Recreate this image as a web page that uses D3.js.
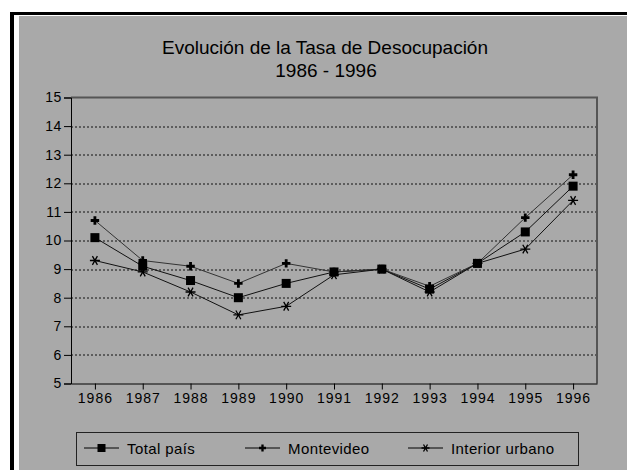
<!DOCTYPE html>
<html>
<head>
<meta charset="utf-8">
<script src="https://cdn.jsdelivr.net/npm/d3@7/dist/d3.min.js"></script>
<style>
  body { margin: 0; background: #fff; }
  text { font-family: "Liberation Sans", Arial, sans-serif; fill: #000; }
</style>
</head>
<body>
<div id="chart"></div>
<script>
// data
var years = ["1986","1987","1988","1989","1990","1991","1992","1993","1994","1995","1996"];
var totalPais   = [10.1, 9.1, 8.6, 8.0, 8.5, 8.9, 9.0, 8.3, 9.2, 10.3, 11.9];
var montevideo  = [10.7, 9.3, 9.1, 8.5, 9.2, 8.9, 9.0, 8.4, 9.2, 10.8, 12.3];
var interior    = [9.3, 8.9, 8.2, 7.4, 7.7, 8.8, 9.0, 8.2, 9.2, 9.7, 11.4];
var yTicks = [5,6,7,8,9,10,11,12,13,14,15];
var seriesNames = ["Total país", "Montevideo", "Interior urbano"];

var W = 627, H = 470;
var margin = {top: 97.5, right: 30, bottom: 87, left: 71};
var width = 597 - margin.left, height = 383.5 - margin.top;

var svg = d3.select("#chart").append("svg")
    .attr("width", W).attr("height", H);

// frame: black border, white gap, gray panel
svg.append("rect").attr("x", 10).attr("y", 12).attr("width", W - 10).attr("height", H - 12).attr("fill", "#000");
svg.append("rect").attr("x", 14).attr("y", 15).attr("width", W - 14).attr("height", H - 15).attr("fill", "#fff");
svg.append("rect").attr("x", 19).attr("y", 16).attr("width", W - 19).attr("height", H - 16).attr("fill", "#a9a9a9");

// title
svg.append("text").attr("x", 325).attr("y", 54).attr("text-anchor", "middle")
    .style("font-size", "19px").text("Evolución de la Tasa de Desocupación");
svg.append("text").attr("x", 326).attr("y", 77).attr("text-anchor", "middle")
    .style("font-size", "19px").text("1986 - 1996");

var g = svg.append("g").attr("transform", "translate(" + margin.left + "," + margin.top + ")");

var x = d3.scalePoint().domain(years).range([0, width]).padding(0.5);
var y = d3.scaleLinear().domain([5, 15]).range([height, 0]);

// dotted gridlines
g.selectAll(".grid").data(yTicks.filter(function(d) { return d > 5 && d < 15; }))
  .enter().append("line")
    .attr("x1", 0).attr("x2", width)
    .attr("y1", function(d) { return Math.round(y(d)) + 0.5; })
    .attr("y2", function(d) { return Math.round(y(d)) + 0.5; })
    .attr("stroke", "#111").attr("stroke-width", 1).attr("stroke-dasharray", "2,2");

// top and right edges of plot area
g.append("path")
    .attr("d", "M0," + y(15) + "H" + width + "V" + height)
    .attr("fill", "none").attr("stroke", "#555").attr("stroke-width", 2);

// axes
var yAxis = g.append("g")
    .call(d3.axisLeft(y).tickValues(yTicks).tickSize(7).tickPadding(2).tickFormat(d3.format("d")));
yAxis.select(".domain").attr("stroke", "#000");
yAxis.selectAll("text").style("font-size", "14px").style("letter-spacing", "0.6px");

var xAxis = g.append("g").attr("transform", "translate(0," + height + ")")
    .call(d3.axisBottom(x).tickSize(6).tickPadding(4).tickSizeOuter(0));
xAxis.selectAll("text").style("font-size", "14px").style("letter-spacing", "1px");

// markers
function drawMarker(sel, kind, s) {
  if (kind === 0) {
    sel.append("rect").attr("x", -s / 2).attr("y", -s / 2).attr("width", s).attr("height", s).attr("fill", "#000");
  } else if (kind === 1) {
    sel.append("path").attr("d", d3.symbol().type(d3.symbolCross).size(s * s * 0.55)).attr("fill", "#000");
  } else {
    var r = s / 2;
    var d = "M" + (-r) + ",0H" + r +
            "M" + (-r * 0.5) + "," + (-r * 0.87) + "L" + (r * 0.5) + "," + (r * 0.87) +
            "M" + (r * 0.5) + "," + (-r * 0.87) + "L" + (-r * 0.5) + "," + (r * 0.87);
    sel.append("path").attr("d", d).attr("stroke", "#000").attr("stroke-width", 1.3).attr("fill", "none");
  }
}

var allSeries = [totalPais, montevideo, interior];
var lineColors = ["#111", "#333", "#111"];

var line = d3.line()
    .x(function(d, i) { return x(years[i]); })
    .y(function(d) { return y(d); });

allSeries.forEach(function(vals, k) {
  g.append("path").datum(vals)
    .attr("fill", "none").attr("stroke", lineColors[k]).attr("stroke-width", 1)
    .attr("d", line);
});
allSeries.forEach(function(vals, k) {
  vals.forEach(function(v, i) {
    var m = g.append("g").attr("transform", "translate(" + x(years[i]) + "," + y(v) + ")");
    drawMarker(m, k, k === 0 ? 9 : (k === 1 ? 8.5 : 10));
  });
});

// legend
var legend = svg.append("g");
legend.append("rect").attr("x", 76.5).attr("y", 432.5).attr("width", 502).attr("height", 33)
    .attr("fill", "none").attr("stroke", "#222").attr("stroke-width", 1);
var legX = [84, 245, 408];
seriesNames.forEach(function(name, k) {
  var it = legend.append("g").attr("transform", "translate(" + legX[k] + ",448)");
  it.append("line").attr("x1", 0).attr("x2", 35).attr("y1", 0).attr("y2", 0)
    .attr("stroke", "#000").attr("stroke-width", 1);
  var m = it.append("g").attr("transform", "translate(17.5,0)");
  drawMarker(m, k, k === 1 ? 7 : 8);
  it.append("text").attr("x", 43).attr("y", 5.5).style("font-size", "15px")
    .style("letter-spacing", "0.4px").text(name);
});
</script>
</body>
</html>
